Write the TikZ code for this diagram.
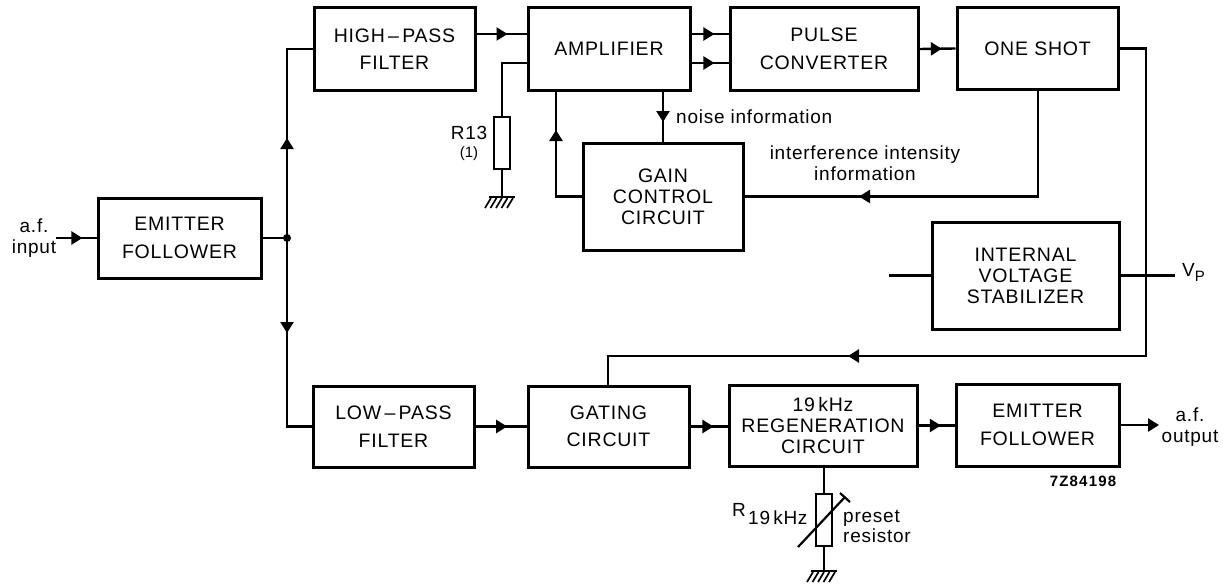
\documentclass[tikz,border=0pt]{standalone}
\usepackage{fontspec}
\setmainfont{Liberation Sans}
\usetikzlibrary{decorations.markings,arrows.meta,calc}
\tikzset{
  x=1pt,y=-1pt,
  blockbox/.style={draw,line width=3pt,align=center,inner sep=0pt,font=\fontsize{19.5}{27.5}\selectfont\addfontfeatures{LetterSpace=4},anchor=north west},
  tightbox/.style={font=\fontsize{19.5}{21}\selectfont\addfontfeatures{LetterSpace=4}},
  conn/.style={line width=2.4pt,line join=miter},
  tip/.style={-{Triangle[length=11pt,width=13pt]}},
  midarrow/.style={postaction={decorate},decoration={markings,mark=at position #1 with {\arrow{Triangle[length=11pt,width=13pt]}}}},
  lab/.style={font=\fontsize{19}{20.5}\selectfont\addfontfeatures{LetterSpace=4},align=center,inner sep=0pt},
  res/.style={draw,line width=1.8pt,fill=white,minimum width=16pt,minimum height=52pt,inner sep=0pt},
  gnd/.style={line width=1.7pt}
}
\newcommand{\boxat}[7][]{\node[blockbox,#1,minimum width=#5pt,minimum height=#6pt] (#2) at (#3-1.5,#4-1.5) {#7};}
\newcommand{\earth}[1]{
  \draw[line width=2.8pt] ($(#1)+(-13,0)$) -- ($(#1)+(13,0)$);
  \foreach \i in {-11,-5.5,0,5.5,11} \draw[gnd] ($(#1)+(\i,1)$) -- ($(#1)+(\i-6,11)$);
}
\begin{document}
\begin{tikzpicture}
\useasboundingbox (0,0) rectangle (1223,586);
\boxat{ef}{98}{198}{163}{80}{EMITTER\\FOLLOWER}
\boxat{hp}{314}{8}{161}{82}{HIGH\,–\,PASS\\FILTER}
\boxat{amp}{528}{8}{162}{82}{AMPLIFIER}
\boxat{pc}{730}{8}{188}{82}{PULSE\\CONVERTER}
\boxat{os}{957}{8}{161}{81}{ONE SHOT}
\boxat[tightbox]{gc}{583}{143}{160}{107}{GAIN\\CONTROL\\CIRCUIT}
\boxat[tightbox]{st}{932}{222}{187}{107}{INTERNAL\\VOLTAGE\\STABILIZER}
\boxat{lp}{313}{386}{161}{81}{LOW\,–\,PASS\\FILTER}
\boxat{gt}{528}{386}{161}{81}{GATING\\CIRCUIT}
\boxat[tightbox]{rg}{729}{385}{188}{81}{19\,kHz\\REGENERATION\\CIRCUIT}
\boxat{ef2}{956}{384}{163}{82}{EMITTER\\FOLLOWER}

\node[lab] (afin) at (34,238) {a.f.\\input};
\node[lab] (afout) at (1190,427) {a.f.\\output};
\node[lab,anchor=west] (noise) at (676,117) {noise information};
\node[lab] (intf) at (865,163) {interference intensity\\information};
\node[lab,anchor=west] (vp) at (1182,272) {V\raisebox{-5pt}{\fontsize{15}{15}\selectfont P}};
\node[lab,font=\fontsize{15}{15}\selectfont\bfseries\addfontfeatures{LetterSpace=8}] (code) at (1083,481) {7Z84198};
\node[lab] (r13) at (469,133) {R13};
\node[lab,font=\fontsize{15}{15}\selectfont] (r13b) at (469,154) {(1)};
\node[lab,anchor=west] (r19) at (732,510) {R};
\node[lab,anchor=west] (r19b) at (748,518) {19\,kHz};
\node[lab,anchor=west,align=left] (pr) at (843,526.5) {preset\\resistor};

% input stage
\coordinate (j) at (ef.east -| 287,0);
\coordinate (top) at (hp.west -| j);
\coordinate (bot) at (lp.west -| j);
\draw[conn,midarrow=0.65] (afin.east |- ef.west) -- (ef.west);
\draw[conn] (ef.east) -- (j);
\fill (j) circle (4pt);
\draw[conn] (j) -- (top) -- (hp.west);
\draw[conn] (j) -- (bot) -- (lp.west);
\coordinate (jup) at (287,138);
\coordinate (jdn) at (287,333);
\draw[conn,tip] (j) -- (jup);
\draw[conn,tip] (j) -- (jdn);
% top row
\draw[conn,midarrow=0.62] ([yshift=15pt]hp.east) -- ([yshift=15pt]amp.west);
\draw[conn,midarrow=0.62] ([yshift=15pt]amp.east) -- ([yshift=15pt]pc.west);
\draw[conn,midarrow=0.62] ([yshift=-14pt]amp.east) -- ([yshift=-14pt]pc.west);
\draw[conn,midarrow=0.62] (pc.east) -- (os.west);
% R13
\node[res] (r1) at (502,143) {};
\coordinate (g1) at (502,197);
\draw[conn] ([yshift=-14pt]amp.west) -| (r1.north);
\draw[conn] (r1.south) -- (g1);
\earth{g1}
% gain loop
\coordinate (fbA) at (amp.south -| 556,0);
\coordinate (fbB) at (gc.west -| 556,0);
\coordinate (fbT) at (556,130);
\coordinate (nA) at (amp.south -| 663,0);
\coordinate (nB) at (gc.north -| 663,0);
\coordinate (nT) at (663,122);
\draw[conn] (fbA) -- (fbB) -- (gc.west);
\draw[conn,tip] (fbB) -- (fbT);
\draw[conn] (nA) -- (nB);
\draw[conn,tip] (nA) -- (nT);
\coordinate (osd) at (os.south -| 1038,0);
\coordinate (osg) at (gc.east -| 1038,0);
\coordinate (gcT) at (859,0 |- gc.east);
\draw[conn] (osd) -- (osg) -- (gc.east);
\draw[conn,tip] (osg) -- (gcT);
% stabiliser
\coordinate (stl) at (st.west -| 889,0);
\coordinate (stv) at (st.east -| 1175,0);
\draw[conn] (stl) -- (st.west);
\draw[conn] (st.east) -- (stv);
% gate line
\coordinate (c1) at (os.east -| 1146,0);
\coordinate (c2) at (1146,356);
\coordinate (c3) at (608,356);
\coordinate (c4) at (848,356);
\draw[conn] (os.east) -- (c1) -- (c2) -- (c3) -- (c3 |- gt.north);
\draw[conn,tip] (c2) -- (c4);
% bottom row
\draw[conn,midarrow=0.62] (lp.east) -- (gt.west);
\draw[conn,midarrow=0.62] (gt.east) -- (gt.east -| rg.west);
\draw[conn,midarrow=0.62] (rg.east) -- (rg.east -| ef2.west);
\coordinate (aft) at (ef2.east -| 1159,0);
\draw[conn,tip] (ef2.east) -- (aft);
% R19
\node[res] (r2) at (824,520) {};
\coordinate (g2) at (r2.south |- 0,571);
\draw[conn] (r2.north |- rg.south) -- (r2.north);
\draw[conn] (r2.south) -- (g2);
\earth{g2}
\coordinate (sl1) at (798,547);
\coordinate (sl2) at (845,497);
\coordinate (cp1) at (840,493);
\coordinate (cp2) at (850,502);
\draw[line width=2.2pt] (sl1) -- (sl2);
\draw[line width=2.2pt] (cp1) -- (cp2);
\end{tikzpicture}
\end{document}
